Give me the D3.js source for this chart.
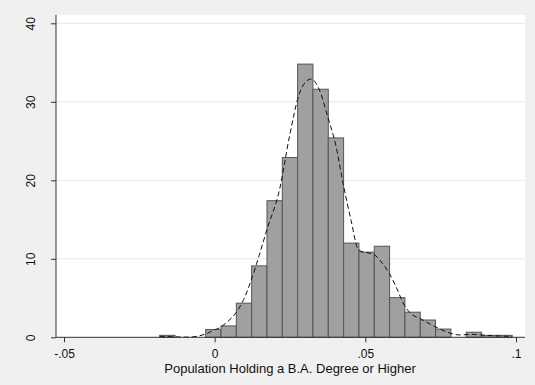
<!DOCTYPE html>
<html>
<head>
<meta charset="utf-8">
<script src="https://cdn.jsdelivr.net/npm/d3@7"></script>
<style>
  body { margin: 0; background: #f0f0f0; }
  svg { display: block; font-family: "Liberation Sans", Arial, sans-serif; }
</style>
</head>
<body>
<script>
// histogram bins: first edge and width (density scale)
var binStart = -0.01824;
var binWidth = 0.005086;
var binDensity = [0.25, 0, 0, 1.0, 1.45, 4.35, 9.1, 17.4, 22.9, 34.8, 31.6, 25.4,
  12.0, 10.85, 11.6, 5.05, 3.2, 2.2, 1.05, 0, 0.65, 0.25, 0.25];

// kernel density estimate
var kdeX = [-0.01821, -0.0149, -0.01159, -0.00828, -0.00563, -0.00298, -0.00066, 0.00189,
  0.0043, 0.00695, 0.0096, 0.01215, 0.01474, 0.01732, 0.02152, 0.02483, 0.02815, 0.03013,
  0.03202, 0.03477, 0.03752, 0.0403, 0.04262, 0.04526, 0.04778, 0.05033, 0.05298, 0.05573,
  0.05795, 0.06017, 0.06291, 0.06566, 0.06811, 0.07318, 0.07838, 0.08113, 0.08553, 0.08997,
  0.09437, 0.09868];
var kdeY = [0.12, 0.1, 0.04, 0.02, 0.15, 0.42, 0.85, 1.27, 2.0, 3.05, 4.8, 7.3, 10.4, 13.7,
  18.8, 25.6, 31.1, 32.5, 32.9, 31.5, 28.1, 24.3, 19.6, 14.9, 11.1, 10.8, 10.5, 9.4, 8.15,
  6.45, 4.1, 2.85, 2.4, 1.35, 0.5, 0.3, 0.38, 0.25, 0.17, 0.1];

var xTicks = [-0.05, 0, 0.05, 0.1];
var xTickLabels = ['-.05', '0', '.05', '.1'];
var yTicks = [0, 10, 20, 30, 40];
var xTitle = 'Population Holding a B.A. Degree or Higher';

var width = 535, height = 385;
var plotL = 56, plotR = 525, plotT = 15, plotB = 337.3;

var x = d3.scaleLinear().domain([-0.05, 0.1]).range([64, 516]);
var y = d3.scaleLinear().domain([0, 40]).range([plotB, 23.3]);

var svg = d3.select('body').append('svg')
  .attr('width', width).attr('height', height);

svg.append('rect').attr('width', width).attr('height', height).attr('fill', '#f0f0f0');
svg.append('rect')
  .attr('x', plotL).attr('y', plotT)
  .attr('width', plotR - plotL).attr('height', plotB - plotT)
  .attr('fill', '#ffffff');

// Gridlines
svg.append('g').selectAll('line')
  .data(yTicks.filter(function(d) { return d > 0; }))
  .enter().append('line')
  .attr('x1', plotL).attr('x2', plotR)
  .attr('y1', function(d) { return y(d); })
  .attr('y2', function(d) { return y(d); })
  .attr('stroke', '#e6e6e6').attr('stroke-width', 1);

// Bars
var bins = binDensity.map(function(d, i) {
  return { x0: binStart + i * binWidth, x1: binStart + (i + 1) * binWidth, v: d };
}).filter(function(d) { return d.v > 0; });

svg.append('g').selectAll('rect')
  .data(bins)
  .enter().append('rect')
  .attr('x', function(d) { return x(d.x0); })
  .attr('width', function(d) { return x(d.x1) - x(d.x0); })
  .attr('y', function(d) { return y(d.v); })
  .attr('height', function(d) { return y(0) - y(d.v); })
  .attr('fill', '#a0a0a0')
  .attr('stroke', '#555555')
  .attr('stroke-width', 1);

// Kernel density
var line = d3.line()
  .x(function(d) { return x(d[0]); })
  .y(function(d) { return y(d[1]); })
  .curve(d3.curveMonotoneX);

svg.append('path')
  .datum(kdeX.map(function(d, i) { return [d, kdeY[i]]; }))
  .attr('d', line)
  .attr('fill', 'none')
  .attr('stroke', '#111111')
  .attr('stroke-width', 1)
  .attr('stroke-dasharray', '5,3');

// X axis
var xAxis = d3.axisBottom(x)
  .tickValues(xTicks)
  .tickFormat(function(d, i) { return xTickLabels[i]; })
  .tickSize(5)
  .tickSizeOuter(0);
var gx = svg.append('g').attr('transform', 'translate(0,' + plotB + ')').call(xAxis);
gx.select('.domain').remove();
gx.append('line').attr('x1', plotL).attr('x2', plotR).attr('y1', 0).attr('y2', 0)
  .attr('stroke', '#333333');
gx.selectAll('.tick line').attr('stroke', '#333333');
gx.selectAll('.tick text')
  .attr('font-size', 12).attr('fill', '#111111')
  .attr('y', 21).attr('dy', 0)
  .attr('font-family', '"Liberation Sans", Arial, sans-serif');

// Y axis
var yAxis = d3.axisLeft(y).tickValues(yTicks).tickSize(5).tickSizeOuter(0);
var gy = svg.append('g').attr('transform', 'translate(' + plotL + ',0)').call(yAxis);
gy.select('.domain').remove();
gy.append('line').attr('x1', 0).attr('x2', 0).attr('y1', plotT).attr('y2', plotB)
  .attr('stroke', '#333333');
gy.selectAll('.tick line').attr('stroke', '#333333');
gy.selectAll('.tick text')
  .attr('font-size', 12).attr('fill', '#111111')
  .attr('font-family', '"Liberation Sans", Arial, sans-serif')
  .attr('x', 0).attr('dy', 0)
  .attr('text-anchor', 'middle')
  .attr('transform', 'translate(-21,0) rotate(-90)');

// Axis title
svg.append('text')
  .attr('x', 290).attr('y', 373)
  .attr('text-anchor', 'middle')
  .attr('font-size', 13).attr('fill', '#111111')
  .text(xTitle);
</script>
</body>
</html>
